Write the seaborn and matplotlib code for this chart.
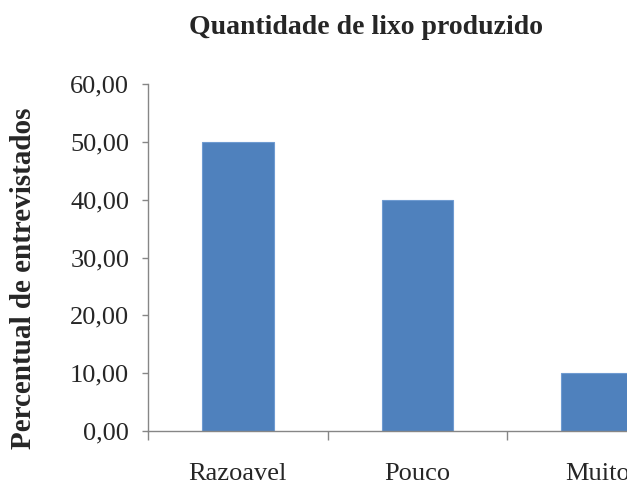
import matplotlib
matplotlib.use('Agg')
import matplotlib.pyplot as plt
import seaborn as sns
import pandas as pd
from matplotlib.ticker import FuncFormatter, FixedLocator

categorias = ['Razoavel', 'Pouco', 'Muito']
percentual = [50.0, 40.0, 10.0]
yticks = [0, 10, 20, 30, 40, 50, 60]

sns.set_style('white')
plt.rcParams['font.family'] = ['Liberation Serif', 'DejaVu Serif']

df = pd.DataFrame({'categoria': categorias, 'percentual': percentual})

fig = plt.figure(figsize=(6.27, 4.87), dpi=100)
# axes runs past the right edge, like the cropped original
ax = fig.add_axes([148 / 627, 1 - 431 / 487, 539 / 627, 347 / 487])

sns.barplot(data=df, x='categoria', y='percentual', color='#4F81BD',
            width=0.4, edgecolor='#6F9BD1', linewidth=0.8, saturation=1, ax=ax)

ax.set_xlim(-0.5, len(categorias) - 0.5)
ax.set_ylim(0, 60)
ax.set_yticks(yticks)
ax.yaxis.set_major_formatter(FuncFormatter(lambda v, p: f'{v:.2f}'.replace('.', ',')))
ax.xaxis.set_minor_locator(FixedLocator([-0.5, 0.5, 1.5, 2.5]))

for s in ['top', 'right']:
    ax.spines[s].set_visible(False)
for s in ['left', 'bottom']:
    ax.spines[s].set_color('#868686')
    ax.spines[s].set_linewidth(1.0)

ax.tick_params(axis='y', which='major', direction='out', length=4.5, width=1,
               color='#868686', labelsize=19, pad=9, left=True)
ax.tick_params(axis='x', which='major', length=0, labelsize=19, pad=23)
ax.tick_params(axis='x', which='minor', direction='out', length=6.5, width=1,
               color='#868686', bottom=True)

ax.set_xlabel('')
ax.set_ylabel('')

fig.text(366 / 627, 1 - 34 / 487, 'Quantidade de lixo produzido',
         ha='center', va='baseline', fontsize=20, fontweight='bold')
fig.text(24 / 627, 1 - 278 / 487, 'Percentual de entrevistados',
         ha='center', va='center', rotation=90, fontsize=21, fontweight='bold')

plt.savefig('out.png', dpi=100)
